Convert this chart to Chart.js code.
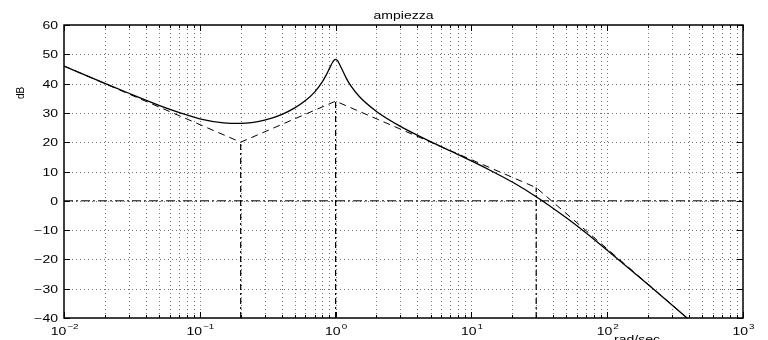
<!DOCTYPE html>
<html>
<head>
<meta charset="utf-8">
<script src="https://cdn.jsdelivr.net/npm/chart.js@4/dist/chart.umd.min.js"></script>
<style>
  html, body { margin: 0; background: #fff; }
  #wrap { width: 768px; height: 340px; position: relative; }
</style>
</head>
<body>
<div id="wrap"><canvas id="bode"></canvas></div>
<script>
// magnitude curve (rad/sec, dB)
const freqs = [0.01, 0.02, 0.03, 0.05, 0.07, 0.1, 0.15, 0.2, 0.3, 0.4, 0.5, 0.6, 0.7, 0.8, 0.85, 0.9, 0.95, 0.975, 1.0, 1.025, 1.05, 1.1, 1.2, 1.3, 1.5, 2, 3, 5, 7, 10, 15, 20, 30, 50, 70, 100, 150, 200, 300, 400];
const magDb = [46.0, 40.1, 36.7, 32.6, 30.2, 28.0, 26.6, 26.4, 27.5, 29.4, 31.7, 34.2, 37.1, 40.7, 42.8, 45.1, 47.3, 48.0, 48.3, 48.0, 47.3, 45.4, 41.8, 39.1, 35.5, 30.5, 25.4, 20.2, 17.0, 13.6, 9.5, 6.4, 1.4, -5.8, -11.0, -16.9, -23.7, -28.6, -35.6, -40.6];

// asymptotic (dashed) approximation
const asymFreqs = [0.01, 0.2, 1, 30, 400];
const asymDb = [46, 20, 34, 4.5, -40.5];

// break frequencies with their vertical dashed markers
const breakFreqs = [0.2, 1, 30];
const breakDb = [20, 34, 4.5];

const yTicks = [60, 50, 40, 30, 20, 10, 0, -10, -20, -30, -40];
const xExponents = [-2, -1, 0, 1, 2, 3];

const SX = 1.4; // text in the reference is stretched horizontally
const FONT = '"Liberation Sans", Arial, sans-serif';

const pts = (xs, ys) => xs.map((x, i) => ({ x, y: ys[i] }));

function wideText(ctx, str, x, y, size, align) {
    ctx.save();
    ctx.font = size + "px " + FONT;
    const w = ctx.measureText(str).width * SX;
    let x0 = x;
    if (align === "center") x0 = x - w / 2;
    if (align === "right") x0 = x - w;
    ctx.translate(x0, y);
    ctx.scale(SX, 1);
    ctx.textAlign = "left";
    ctx.fillText(str, 0, 0);
    ctx.restore();
    return w;
}

const minus = (v) => (v < 0 ? "\u2212" + Math.abs(v) : String(v));

const bodePlot = {
    id: "bodePlot",
    beforeDatasetsDraw(chart) {
        const { ctx, chartArea: a, scales: { x, y } } = chart;
        ctx.save();
        ctx.strokeStyle = "rgba(0,0,0,0.55)";
        ctx.lineWidth = 1;
        ctx.setLineDash([1, 3]);
        // vertical grid, every 1..9 x decade
        for (let e = -2; e < 3; e++) {
            for (let m = 1; m < 10; m++) {
                const px = Math.round(x.getPixelForValue(m * Math.pow(10, e))) + 0.5;
                if (px <= a.left + 1) continue;
                ctx.beginPath();
                ctx.moveTo(px, a.top);
                ctx.lineTo(px, a.bottom);
                ctx.stroke();
            }
        }
        // horizontal grid
        yTicks.forEach((v) => {
            const py = Math.round(y.getPixelForValue(v)) + 0.5;
            if (py <= a.top + 1 || py >= a.bottom - 1) return;
            ctx.beginPath();
            ctx.moveTo(a.left, py);
            ctx.lineTo(a.right, py);
            ctx.stroke();
        });
        ctx.restore();
    },
    afterDatasetsDraw(chart) {
        const { ctx, chartArea: a, scales: { x, y } } = chart;
        ctx.save();
        ctx.strokeStyle = "#000";
        ctx.fillStyle = "#000";
        ctx.setLineDash([]);
        ctx.lineWidth = 1.5;
        ctx.strokeRect(a.left, a.top, a.right - a.left, a.bottom - a.top);

        ctx.lineWidth = 1;
        // y ticks, both sides
        yTicks.forEach((v) => {
            const py = Math.round(y.getPixelForValue(v)) + 0.5;
            ctx.beginPath();
            ctx.moveTo(a.left, py); ctx.lineTo(a.left + 6, py);
            ctx.moveTo(a.right, py); ctx.lineTo(a.right - 6, py);
            ctx.stroke();
            ctx.textBaseline = "middle";
            wideText(ctx, minus(v), a.left - 6, py + 1, 10, "right");
        });
        // x ticks, major and minor, bottom and top
        for (let e = -2; e <= 3; e++) {
            for (let m = 1; m < 10; m++) {
                if (e === 3 && m > 1) break;
                const px = Math.round(x.getPixelForValue(m * Math.pow(10, e))) + 0.5;
                const len = m === 1 ? 6 : 3;
                ctx.beginPath();
                ctx.moveTo(px, a.bottom); ctx.lineTo(px, a.bottom - len);
                ctx.moveTo(px, a.top); ctx.lineTo(px, a.top + len);
                ctx.stroke();
            }
        }
        // x tick labels as 10^n
        ctx.textBaseline = "alphabetic";
        xExponents.forEach((e) => {
            const px = x.getPixelForValue(Math.pow(10, e));
            ctx.font = "10px " + FONT;
            const wBase = ctx.measureText("10").width * SX;
            ctx.font = "7px " + FONT;
            const wExp = ctx.measureText(minus(e)).width * SX;
            const x0 = px - (wBase + wExp) / 2;
            wideText(ctx, "10", x0, a.bottom + 17, 10, "left");
            wideText(ctx, minus(e), x0 + wBase + 1, a.bottom + 11, 7, "left");
        });

        // title and axis labels
        wideText(ctx, "ampiezza", (a.left + a.right) / 2, 19, 10, "center");
        wideText(ctx, "rad/sec", 637, 343, 10, "center");
        ctx.save();
        ctx.translate(24, 93);
        ctx.rotate(-Math.PI / 2);
        ctx.font = "10px " + FONT;
        ctx.textAlign = "center";
        ctx.fillText("dB", 0, 0);
        ctx.restore();
        ctx.restore();
    }
};

const lineDs = (data, dash, width) => ({
    data,
    showLine: true,
    borderColor: "#000",
    borderWidth: width,
    borderDash: dash,
    pointRadius: 0,
    fill: false,
    tension: 0
});

const datasets = [
    lineDs([{ x: 0.01, y: 0 }, { x: 1000, y: 0 }], [9, 3, 2, 3], 1),
    lineDs(pts(asymFreqs, asymDb), [7, 5], 1),
    ...breakFreqs.map((f, i) => lineDs([{ x: f, y: -40 }, { x: f, y: breakDb[i] }], [6, 3, 2, 3], 1.2)),
    Object.assign(lineDs(pts(freqs, magDb), [], 1.3), { cubicInterpolationMode: "monotone" })
];

new Chart(document.getElementById("bode"), {
    type: "scatter",
    data: { datasets },
    options: {
        responsive: true,
        maintainAspectRatio: false,
        animation: false,
        events: [],
        layout: { padding: { left: 64, right: 25, top: 25, bottom: 22 } },
        plugins: { legend: { display: false }, tooltip: { enabled: false } },
        scales: {
            x: { type: "logarithmic", min: 0.01, max: 1000, display: false },
            y: { type: "linear", min: -40, max: 60, display: false }
        }
    },
    plugins: [bodePlot]
});
</script>
</body>
</html>
